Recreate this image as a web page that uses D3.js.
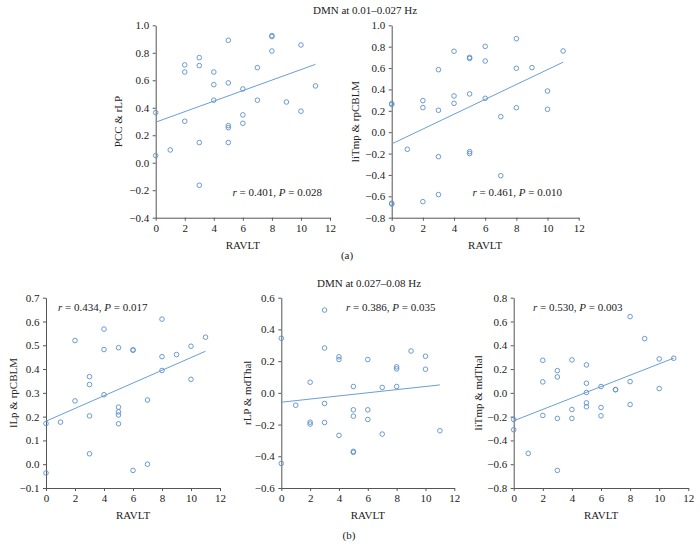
<!DOCTYPE html>
<html>
<head>
<meta charset="utf-8">
<script src="https://cdn.jsdelivr.net/npm/d3@7"></script>
<style>
  html, body { margin: 0; padding: 0; background: #fff; }
  svg { display: block; font-family: "Liberation Serif", "Times New Roman", serif; }
</style>
</head>
<body>
<svg id="chart" width="700" height="556"></svg>
<script>
// ---------- data ----------
const xTicks = [0, 2, 4, 6, 8, 10, 12];

// (a) DMN at 0.01–0.027 Hz
const ravltA1 = [0,0,1,2,2,2,3,3,3,3,4,4,4,5,5,5,5,5,6,6,6,7,7,8,8,8,9,10,10,11];
const pccRlp  = [0.365,0.052,0.093,0.712,0.66,0.302,0.765,0.707,0.147,-0.164,0.66,0.568,0.455,0.891,0.581,0.27,0.255,0.147,0.537,0.348,0.287,0.692,0.455,0.925,0.918,0.813,0.442,0.857,0.375,0.559];
const fitA1   = [0.295, 0.716];

const ravltA2 = [0,0,0,0,1,2,2,2,3,3,3,3,4,4,4,5,5,5,5,5,6,6,6,7,7,8,8,8,9,10,10,11];
const litmpRpcblm = [0.267,0.26,-0.665,-0.672,-0.16,0.295,0.23,-0.65,0.585,0.205,-0.229,-0.584,0.757,0.339,0.27,0.70,0.69,0.358,-0.182,-0.20,0.803,0.666,0.317,0.145,-0.407,0.875,0.598,0.229,0.604,0.385,0.214,0.76];
const fitA2   = [-0.11, 0.655];

// (b) DMN at 0.027–0.08 Hz
const ravltB1 = [0,0,1,2,2,3,3,3,3,4,4,4,5,5,5,5,5,6,6,6,7,7,8,8,8,9,10,10,11];
const llpRpcblm = [0.171,-0.037,0.177,0.52,0.266,0.368,0.335,0.203,0.044,0.568,0.482,0.292,0.49,0.24,0.22,0.207,0.17,0.481,0.479,-0.026,0.27,0.0,0.61,0.452,0.394,0.461,0.496,0.357,0.534];
const fitB1   = [0.181, 0.475];

const ravltB2 = [0,0,1,2,2,2,3,3,3,3,4,4,4,5,5,5,5,5,6,6,6,7,7,8,8,8,9,10,10,11];
const rlpMdthal = [0.344,-0.445,-0.078,0.067,-0.185,-0.197,0.522,0.283,-0.067,-0.187,0.227,0.21,-0.268,0.04,-0.107,-0.147,-0.369,-0.375,0.21,-0.107,-0.168,0.034,-0.26,0.164,0.151,0.04,0.264,0.231,0.149,-0.239];
const fitB2   = [-0.059, 0.05];

const ravltB3 = [0,0,1,2,2,2,3,3,3,3,4,4,4,5,5,5,5,5,6,6,6,7,7,8,8,8,9,10,10,11];
const litmpMdthal = [-0.224,-0.31,-0.509,0.274,0.092,-0.19,0.187,0.134,-0.215,-0.652,0.277,-0.14,-0.215,0.235,0.081,0.003,-0.084,-0.117,0.053,-0.123,-0.193,0.028,0.026,0.641,0.095,-0.098,0.456,0.285,0.036,0.291];
const fitB3   = [-0.235, 0.292];

const yTicksA1 = [-0.4,-0.2,0,0.2,0.4,0.6,0.8,1.0];
const yTicksA2 = [-0.8,-0.6,-0.4,-0.2,0,0.2,0.4,0.6,0.8,1.0];
const yTicksB1 = [-0.1,0,0.1,0.2,0.3,0.4,0.5,0.6,0.7];
const yTicksB2 = [-0.6,-0.4,-0.2,0,0.2,0.4,0.6];
const yTicksB3 = [-0.8,-0.6,-0.4,-0.2,0,0.2,0.4,0.6,0.8];

const panels = [
  { x: ravltA1, y: pccRlp, fit: fitA1, yTicks: yTicksA1, yLabel: "PCC & rLP", stat: ["0.401", "0.028"],
    box: [155.7, 330, 25.3, 217.7], yLabelX: 118, stat_xy: [322, 196], anchor: "end" },
  { x: ravltA2, y: litmpRpcblm, fit: fitA2, yTicks: yTicksA2, yLabel: "liTmp & rpCBLM", stat: ["0.461", "0.010"],
    box: [391.7, 578.7, 25.3, 217.7], yLabelX: 355, stat_xy: [562, 196], anchor: "end" },
  { x: ravltB1, y: llpRpcblm, fit: fitB1, yTicks: yTicksB1, yLabel: "lLp & rpCBLM", stat: ["0.434", "0.017"],
    box: [46, 220, 297.7, 488], yLabelX: 13, stat_xy: [58, 311], anchor: "start" },
  { x: ravltB2, y: rlpMdthal, fit: fitB2, yTicks: yTicksB2, yLabel: "rLP & mdThal", stat: ["0.386", "0.035"],
    box: [281.3, 454.3, 297.7, 488], yLabelX: 247, stat_xy: [346, 311], anchor: "start" },
  { x: ravltB3, y: litmpMdthal, fit: fitB3, yTicks: yTicksB3, yLabel: "liTmp & mdThal", stat: ["0.530", "0.003"],
    box: [513.7, 688.3, 297.7, 488], yLabelX: 478, stat_xy: [533, 311], anchor: "start" }
];

// ---------- drawing ----------
const svg = d3.select("#chart");
const axisColor = "#555";
const markColor = "#5b8fcb";
const lineColor = "#6a9fd6";
const fmt = d3.format(".1f");

panels.forEach(p => {
  const [x0, x1, y0, y1] = p.box;
  const xs = d3.scaleLinear().domain([0, 12]).range([x0, x1]);
  const yd = d3.extent(p.yTicks);
  const ys = d3.scaleLinear().domain(yd).range([y1, y0]);
  const g = svg.append("g");

  const xAxis = g.append("g").attr("transform", `translate(0,${y1})`)
    .call(d3.axisBottom(xs).tickValues(xTicks).tickSize(3).tickPadding(3.5).tickSizeOuter(0));
  const yAxis = g.append("g").attr("transform", `translate(${x0},0)`)
    .call(d3.axisLeft(ys).tickValues(p.yTicks).tickFormat(fmt).tickSize(3).tickPadding(3.5).tickSizeOuter(0));
  [xAxis, yAxis].forEach(a => {
    a.selectAll("path, line").attr("stroke", axisColor).attr("stroke-width", 1);
    a.selectAll("text").attr("fill", "#222").style("font-size", "11px")
      .style("font-family", '"Liberation Serif", "Times New Roman", serif');
  });

  // regression line
  g.append("line")
    .attr("x1", xs(0)).attr("y1", ys(p.fit[0]))
    .attr("x2", xs(11)).attr("y2", ys(p.fit[1]))
    .attr("stroke", lineColor).attr("stroke-width", 1);

  // points
  g.selectAll("circle.pt").data(p.x.map((v, i) => [v, p.y[i]])).enter()
    .append("circle").attr("class", "pt")
    .attr("cx", d => xs(d[0])).attr("cy", d => ys(d[1])).attr("r", 2.3)
    .attr("fill", "none").attr("stroke", markColor).attr("stroke-width", 0.9);

  // axis titles
  g.append("text").attr("x", (x0 + x1) / 2).attr("y", y1 + 31)
    .attr("text-anchor", "middle").style("font-size", "11px").attr("fill", "#222").text("RAVLT");
  g.append("text")
    .attr("transform", `translate(${p.yLabelX},${(y0 + y1) / 2}) rotate(-90)`)
    .attr("text-anchor", "middle").attr("dominant-baseline", "central")
    .style("font-size", "11px").attr("fill", "#222").text(p.yLabel);

  // stat annotation
  const t = g.append("text").attr("x", p.stat_xy[0]).attr("y", p.stat_xy[1])
    .attr("text-anchor", p.anchor).style("font-size", "11px").attr("fill", "#222");
  t.append("tspan").style("font-style", "italic").text("r");
  t.append("tspan").text(` = ${p.stat[0]}, `);
  t.append("tspan").style("font-style", "italic").text("P");
  t.append("tspan").text(` = ${p.stat[1]}`);
});

// figure titles and sub-labels
svg.append("text").attr("x", 313).attr("y", 14).style("font-size", "11px").attr("fill", "#222")
  .text("DMN at 0.01–0.027 Hz");
svg.append("text").attr("x", 347).attr("y", 259).attr("text-anchor", "middle").style("font-size", "11px").attr("fill", "#222")
  .text("(a)");
svg.append("text").attr("x", 317).attr("y", 287).style("font-size", "11px").attr("fill", "#222")
  .text("DMN at 0.027–0.08 Hz");
svg.append("text").attr("x", 349).attr("y", 539).attr("text-anchor", "middle").style("font-size", "11px").attr("fill", "#222")
  .text("(b)");
</script>
</body>
</html>
